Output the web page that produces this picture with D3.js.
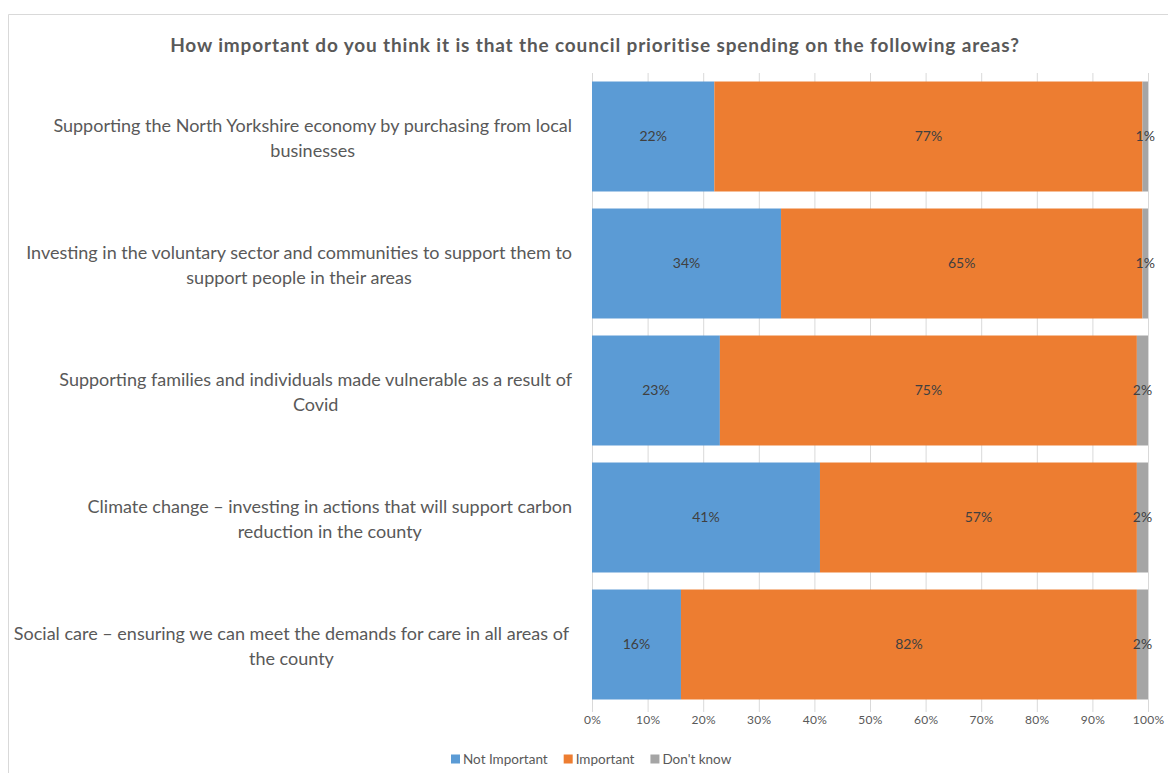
<!DOCTYPE html>
<html>
<head>
<meta charset="utf-8">
<script src="https://cdn.jsdelivr.net/npm/d3@7/dist/d3.min.js"></script>
<style>
  html, body { margin: 0; padding: 0; background: #ffffff; }
  svg { display: block; }
  text { font-family: Lato, "Open Sans", sans-serif; }
</style>
</head>
<body>
<svg id="chart" width="1168" height="773"></svg>
<script>
// Survey question and answer areas (line breaks as wrapped on the axis)
const title = "How important do you think it is that the council prioritise spending on the following areas?";
const categories = [
  "Supporting the North Yorkshire economy by purchasing from local\nbusinesses",
  "Investing in the voluntary sector and communities to support them to\nsupport people in their areas",
  "Supporting families and individuals made vulnerable as a result of\nCovid",
  "Climate change – investing in actions that will support carbon\nreduction in the county",
  "Social care – ensuring we can meet the demands for care in all areas of\nthe county"
];
const seriesNames = ["Not Important", "Important", "Don't know"];
const notImportant = [22, 34, 23, 41, 16];
const important = [77, 65, 75, 57, 82];
const dontKnow = [1, 1, 2, 2, 2];
const tickValues = [0, 10, 20, 30, 40, 50, 60, 70, 80, 90, 100];
const colors = ["#5B9BD5", "#ED7D31", "#A5A5A5"];

const svg = d3.select("#chart");
const textGrey = "#595959";

// chart frame
svg.append("line").attr("x1", 8.5).attr("x2", 1168).attr("y1", 14.5).attr("y2", 14.5)
  .attr("stroke", "#D9D9D9").attr("stroke-width", 1);
svg.append("line").attr("x1", 8.5).attr("x2", 8.5).attr("y1", 14.5).attr("y2", 773)
  .attr("stroke", "#D9D9D9").attr("stroke-width", 1);

// title, tracked out to span the plot width
const titleText = svg.append("text")
  .attr("x", 595).attr("y", 52)
  .attr("text-anchor", "middle")
  .attr("font-size", 19).attr("font-weight", 700)
  .attr("fill", textGrey)
  .text(title);
{
  const w = titleText.node().getComputedTextLength();
  const target = 850;
  titleText.attr("letter-spacing", Math.max(0, (target - w) / title.length));
}

const x = d3.scaleLinear().domain([0, 100]).range([592, 1148]);
const y = d3.scaleBand().domain(d3.range(categories.length))
  .range([73, 708]).paddingInner(0.134).paddingOuter(0.067);

// vertical gridlines
svg.append("g").selectAll("line").data(tickValues).join("line")
  .attr("x1", d => x(d) + 0.5).attr("x2", d => x(d) + 0.5)
  .attr("y1", 73).attr("y2", 712)
  .attr("stroke", "#D9D9D9").attr("stroke-width", 1);

// stacked series
const rows = categories.map((c, i) => ({ i, a: notImportant[i], b: important[i], c: dontKnow[i] }));
const stack = d3.stack().keys(["a", "b", "c"]);
const layers = stack(rows);

const g = svg.append("g");
layers.forEach((layer, k) => {
  g.append("g").attr("fill", colors[k]).selectAll("rect").data(layer).join("rect")
    .attr("x", d => x(d[0]))
    .attr("width", d => x(d[1]) - x(d[0]))
    .attr("y", d => y(d.data.i))
    .attr("height", y.bandwidth());
});

// value labels
layers.forEach((layer, k) => {
  g.append("g").selectAll("text").data(layer).join("text")
    .attr("x", d => x((d[0] + d[1]) / 2))
    .attr("y", d => y(d.data.i) + y.bandwidth() / 2)
    .attr("dy", "0.35em")
    .attr("text-anchor", "middle")
    .attr("font-size", 14)
    .attr("fill", "#404040")
    .text(d => (d[1] - d[0]) + "%");
});

// x axis tick labels
const xAxis = d3.axisBottom(x).tickValues(tickValues).tickFormat(d => d + "%").tickSize(0).tickPadding(0);
const ax = svg.append("g").attr("transform", "translate(0,715)").call(xAxis);
ax.select(".domain").remove();
ax.selectAll("text").attr("font-family", "Lato, sans-serif").attr("font-size", 12)
  .attr("letter-spacing", 0.3)
  .attr("fill", textGrey).attr("dy", "0.71em");

// category labels: lines centred within a right-aligned block
const labelRight = 572;
const catG = svg.append("g");
categories.forEach((c, i) => {
  const lines = c.split("\n");
  const t = catG.append("text")
    .attr("font-size", 18).attr("fill", textGrey)
    .attr("text-anchor", "middle");
  const spans = lines.map((ln, j) => t.append("tspan").text(ln));
  const widths = spans.map(s => s.node().getComputedTextLength());
  const blockW = d3.max(widths);
  const cx = labelRight - blockW / 2;
  const cy = y(i) + y.bandwidth() / 2 + 2;
  const lh = 25;
  spans.forEach((s, j) => {
    s.attr("x", cx).attr("y", cy + (j - (lines.length - 1) / 2) * lh).attr("dy", "0.35em");
  });
});

// legend
const legend = svg.append("g").attr("transform", "translate(0,759)");
let lx = 451;
seriesNames.forEach((name, k) => {
  legend.append("rect").attr("x", lx).attr("y", -4.5).attr("width", 9).attr("height", 9).attr("fill", colors[k]);
  const t = legend.append("text").attr("x", lx + 12).attr("y", 0).attr("dy", "0.35em")
    .attr("font-size", 13.5).attr("fill", textGrey).text(name);
  lx += 12 + t.node().getComputedTextLength() + 16;
});
</script>
</body>
</html>
